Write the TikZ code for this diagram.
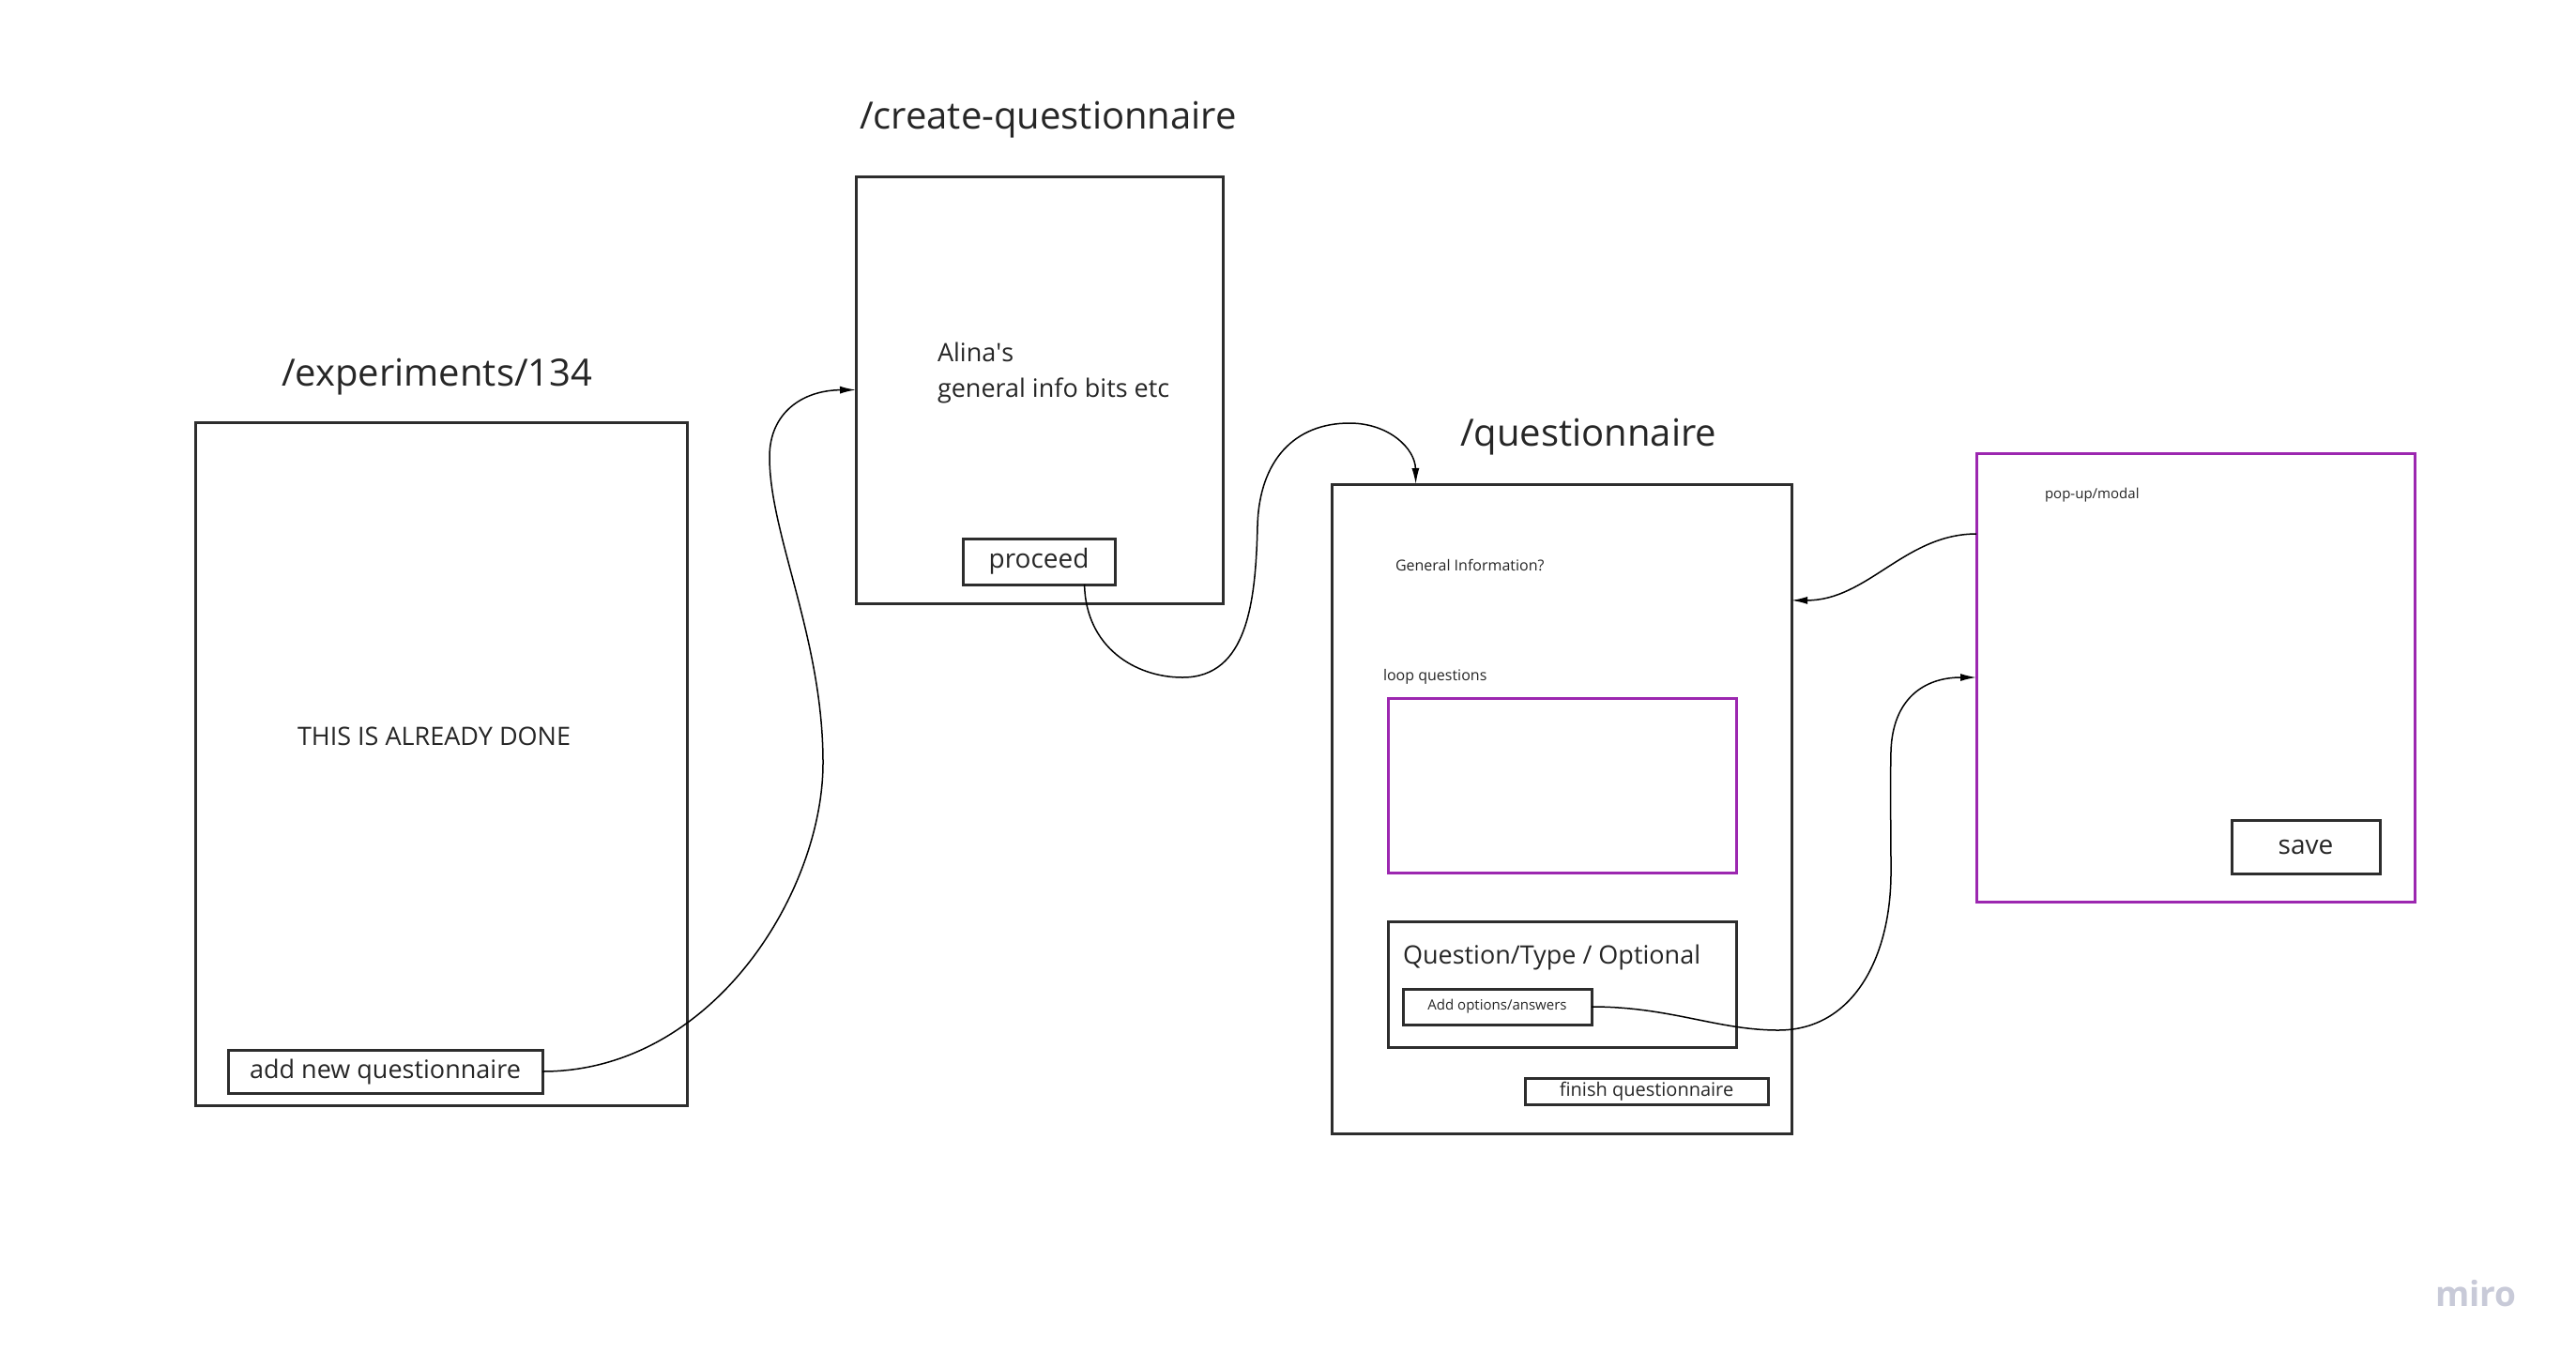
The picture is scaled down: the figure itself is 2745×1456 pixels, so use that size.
\documentclass[tikz,border=0pt]{standalone}
\usepackage{fontspec}
\setmainfont{Open Sans}
\usetikzlibrary{arrows.meta,calc}
\definecolor{ink}{RGB}{38,38,38}
\definecolor{frame}{RGB}{45,45,45}
\definecolor{purp}{RGB}{156,39,176}
\definecolor{mirogray}{RGB}{200,202,216}
\begin{document}
\begin{tikzpicture}[x=1pt,y=-1pt,
  box/.style={draw=frame, line width=3pt, rectangle, inner sep=0pt, outer sep=0pt, anchor=north west, text=ink},
  pbox/.style={box, draw=purp},
  lbl/.style={inner sep=0pt, outer sep=0pt, anchor=base west, text=ink},
  link/.style={line width=1.5pt, draw=black},
  tip/.style={-{Latex[length=17pt,width=8pt]}}
]
\fill[white] (0,0) rectangle (2745,1456);
\useasboundingbox (0,0) rectangle (2745,1456);

% titles
\node[lbl, font=\fontsize{40}{48}\selectfont] (texp) at (300,411) {/experiments/134};
\node[lbl, font=\fontsize{40}{48}\selectfont] (tcreate) at (916,137) {/create-questionnaire};
\node[lbl, font=\fontsize{40}{48}\selectfont] (tq) at (1556,475) {/questionnaire};

% experiments page
\node[box, minimum width=524pt, minimum height=728pt] (exp) at (208,450) {};
\node[lbl, font=\fontsize{27}{32}\selectfont] (done) at (317,794) {THIS IS ALREADY DONE};
\node[box, minimum width=335pt, minimum height=46pt, font=\fontsize{27}{32}\selectfont] (addq) at (243,1119) {add new questionnaire};

% create-questionnaire page
\node[box, minimum width=391pt, minimum height=455pt] (create) at (912,188) {};
\node[lbl, font=\fontsize{27}{32}\selectfont] (alina1) at (999,385) {Alina\textquotesingle s};
\node[lbl, font=\fontsize{27}{32}\selectfont] (alina2) at (999,423) {general info bits etc};
\node[box, minimum width=162pt, minimum height=49pt, font=\fontsize{28}{32}\selectfont] (proceed) at (1026,574) {proceed};

% questionnaire page
\node[box, minimum width=490pt, minimum height=692pt] (qbox) at (1419,516) {};
\node[lbl, font=\fontsize{16}{20}\selectfont] (geninfo) at (1487,608) {General Information?};
\node[lbl, font=\fontsize{16}{20}\selectfont] (loopq) at (1474,725) {loop questions};
\node[pbox, minimum width=371pt, minimum height=186pt] (loop) at (1479,744) {};
\node[box, minimum width=371pt, minimum height=134pt] (qt) at (1479,982) {};
\node[lbl, font=\fontsize{27}{32}\selectfont] (qttext) at (1495,1027) {Question/Type / Optional};
\node[box, minimum width=201pt, minimum height=38pt, font=\fontsize{15}{18}\selectfont] (addopt) at (1495,1054) {Add options/answers};
\node[box, minimum width=259pt, minimum height=28pt, font=\fontsize{20}{24}\selectfont] (finish) at (1625,1149) {finish questionnaire};

% modal
\node[pbox, minimum width=467pt, minimum height=478pt] (modal) at (2106,483) {};
\node[lbl, font=\fontsize{15}{18}\selectfont] (modaltext) at (2179,531) {pop-up/modal};
\node[box, minimum width=158pt, minimum height=57pt, font=\fontsize{28}{32}\selectfont] (save) at (2378,874) {save};

% connectors
\draw[link,tip] (addq.east) .. controls (760,1142) and (877,950) .. (877,813)
  .. controls (877,680) and (820,570) .. (820,487)
  .. controls (820,440) and (855,416) .. (create.west);
\draw[link,tip] ($(proceed.south west)!0.8!(proceed.south east)$) .. controls (1157,690) and (1210,722) .. (1260,722)
  .. controls (1330,722) and (1338,640) .. (1340,560)
  .. controls (1342,490) and (1380,451) .. (1438,451)
  .. controls (1480,451) and (1508,478) .. ($(qbox.north west)!0.183!(qbox.north east)$);
\draw[link,tip] ($(modal.north west)!0.18!(modal.south west)$) .. controls (2030,569) and (1990,640) .. ($(qbox.north east)!0.179!(qbox.south east)$);
\draw[link,tip] (addopt.east) .. controls (1780,1073) and (1830,1098) .. (1895,1098)
  .. controls (1975,1098) and (2015,1020) .. (2015,930)
  .. controls (2015,870) and (2014,850) .. (2015,800)
  .. controls (2017,745) and (2050,722) .. (modal.west);

% watermark
\node[inner sep=0pt, anchor=base west, text=mirogray, font=\fontsize{37}{40}\selectfont\bfseries] (miro) at (2595,1392) {miro};
\end{tikzpicture}
\end{document}
